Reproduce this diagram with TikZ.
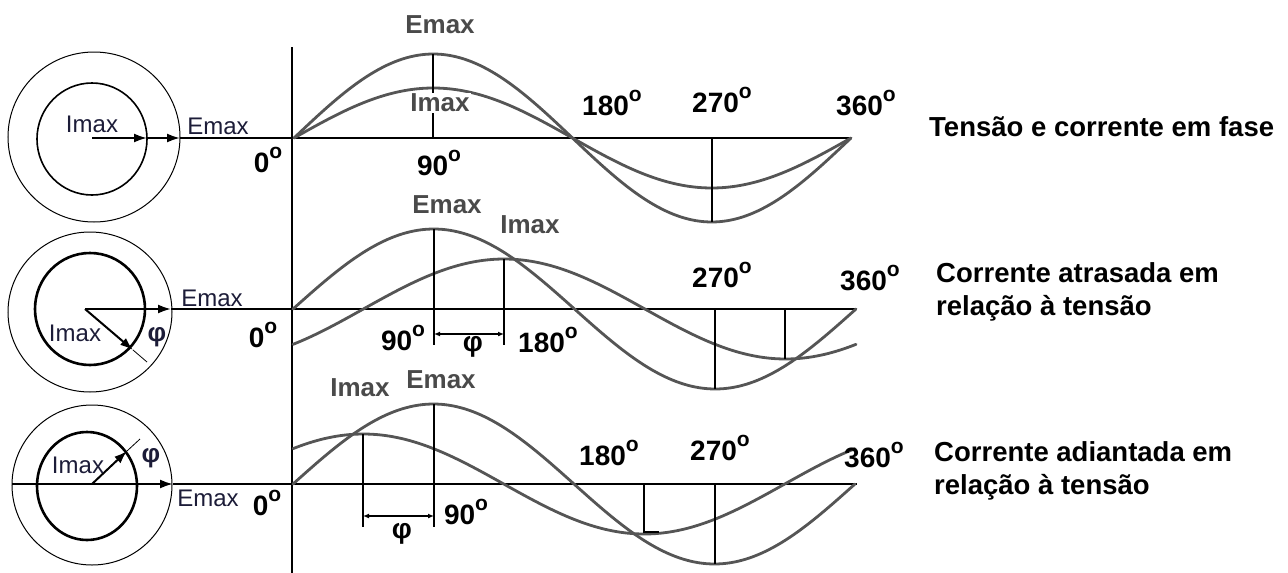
\documentclass[tikz,border=0pt]{standalone}
\usepackage{fontspec}
\setmainfont{Liberation Sans}
\usepackage{xcolor}
\usepackage{tikz}
\usetikzlibrary{arrows.meta}
\definecolor{curvegray}{HTML}{555555}
\definecolor{labelgray}{HTML}{4A4A4A}
\definecolor{phasorink}{HTML}{1C1C38}
\tikzstyle{wave} = [curvegray, line width=2.8pt, line cap=round]
\tikzstyle{guide} = [black, line width=2pt]
\tikzstyle{phasor} = [black, line width=2pt, -{Latex[length=13pt,width=9pt]}]
\tikzstyle{phiarrow} = [black, line width=1.3pt, {Latex[length=6pt,width=5pt]}-{Latex[length=6pt,width=5pt]}]
\tikzstyle{curvelbl} = [font=\fontsize{26}{28}\selectfont\bfseries, text=labelgray]
\tikzstyle{deglbl} = [font=\fontsize{28}{30}\selectfont\bfseries]
\tikzstyle{phlbl} = [font=\fontsize{24}{26}\selectfont, text=phasorink]
\tikzstyle{caption} = [font=\fontsize{27.5}{33}\selectfont\bfseries, align=left, anchor=west]
\newcommand{\grau}{\raisebox{0.5em}{\fontsize{21}{21}\selectfont\bfseries o}}

\begin{document}
\begin{tikzpicture}[x=1pt, y=-1pt, every node/.style={inner sep=1pt}]
\useasboundingbox (0,0) rectangle (1288,573);

% Vertical axis
\draw[guide] (292,47) -- (292,573);

% ---------- Row 1: in phase ----------
\coordinate (o1) at (92,138);
\coordinate (i1) at (147,138);
\coordinate (e1) at (180,138);
\coordinate (end1) at (851,138);
\draw[line width=1pt] (94,137) ellipse [x radius=86pt, y radius=85pt];
\draw[line width=1.6pt] (92,139) ellipse [x radius=55pt, y radius=56pt];
\draw[phasor] (o1) -- (i1);
\draw[phasor] (i1) -- (e1);
\draw[guide] (e1) -- (end1);
\node[phlbl] (pi1) at (92,124) {Imax};
\node[phlbl] (pe1) at (218,126) {Emax};
\node[deglbl] (d0a) at (268,160) {0\grau};

\draw[wave] plot[domain=0:360, samples=73, smooth] ({294+\x/360*557},{138-84*sin(\x)});
\draw[wave] plot[domain=0:360, samples=73, smooth] ({294+\x/360*557},{138-50*sin(\x)});
\draw[guide] (433,54) -- (433,138);
\draw[guide] (712,138) -- (712,222);
\node[curvelbl] (ce1) at (440,25) {Emax};
\node[curvelbl, fill=white] (ci1) at (440,103) {Imax};
\node[deglbl] (d90a) at (439,163) {90\grau};
\node[deglbl] (d180a) at (612,103) {180\grau};
\node[deglbl] (d270a) at (722,100) {270\grau};
\node[deglbl] (d360a) at (866,103) {360\grau};
\node[caption] (cap1) at (928,127) {Tensão e corrente em fase};

% ---------- Row 2: current lagging ----------
\coordinate (o2) at (85,309);
\coordinate (i2) at (133,350);
\coordinate (x2) at (147,362);
\coordinate (e2) at (171,309);
\coordinate (end2) at (857,309);
\draw[line width=1pt] (90,312) ellipse [x radius=82pt, y radius=80pt];
\draw[line width=2.6pt] (90,309) ellipse [x radius=55pt, y radius=56pt];
\draw[phasor] (o2) -- (e2);
\draw[guide] (e2) -- (end2);
\draw[phasor] (o2) -- (i2);
\draw[line width=0.8pt] (i2) -- (x2);
\node[phlbl] (pe2) at (212,298) {Emax};
\node[phlbl] (pi2) at (75,333) {Imax};
\node[phlbl, font=\fontsize{26}{28}\selectfont\bfseries] (pf2) at (157,337) {φ};
\node[deglbl] (d0b) at (263,335) {0\grau};

\draw[wave] plot[domain=0:360, samples=73, smooth] ({293+\x/360*563},{309-80*sin(\x)});
\draw[wave] plot[domain=0:360, samples=73, smooth] ({293+\x/360*563},{309-50*sin(\x-45)});
\coordinate (a2) at (434,334);
\coordinate (b2) at (504,334);
\draw[guide] (434,229) -- (434,345);
\draw[guide] (504,259) -- (504,345);
\draw[phiarrow] (a2) -- (b2);
\draw[guide] (715,309) -- (715,389);
\draw[guide] (785,309) -- (785,359);
\node[curvelbl] (ce2) at (447,205) {Emax};
\node[curvelbl] (ci2) at (530,225) {Imax};
\node[deglbl] (d90b) at (403,338) {90\grau};
\node[deglbl] (f2) at (473,347) {φ};
\node[deglbl] (d180b) at (548,340) {180\grau};
\node[deglbl] (d270b) at (722,275) {270\grau};
\node[deglbl] (d360b) at (870,278) {360\grau};
\node[caption] (cap2) at (935,292) {Corrente atrasada em\\relação à tensão};

% ---------- Row 3: current leading ----------
\coordinate (s3) at (12,484);
\coordinate (o3) at (92,484);
\coordinate (i3) at (127,451);
\coordinate (x3) at (140,439);
\coordinate (e3) at (173,484);
\coordinate (end3) at (857,484);
\draw[line width=1pt] (92,485) ellipse [x radius=80pt, y radius=80pt];
\draw[line width=2.6pt] (87,486) ellipse [x radius=50pt, y radius=54pt];
\draw[guide] (s3) -- (o3);
\draw[phasor] (o3) -- (e3);
\draw[guide] (e3) -- (end3);
\draw[phasor] (o3) -- (i3);
\draw[line width=0.8pt] (i3) -- (x3);
\node[phlbl] (pi3) at (78,465) {Imax};
\node[phlbl, font=\fontsize{26}{28}\selectfont\bfseries] (pf3) at (151,458) {φ};
\node[phlbl] (pe3) at (208,498) {Emax};
\node[deglbl] (d0c) at (267,503) {0\grau};

\draw[wave] plot[domain=0:360, samples=73, smooth] ({293+\x/360*562},{484-80*sin(\x)});
\draw[wave] plot[domain=0:360, samples=73, smooth] ({293+\x/360*562},{484-50*sin(\x+45)});
\coordinate (a3) at (363,516);
\coordinate (b3) at (434,516);
\draw[guide] (363,434) -- (363,527);
\draw[guide] (434,404) -- (434,527);
\draw[phiarrow] (a3) -- (b3);
\draw[guide] (715,484) -- (715,564);
\draw[guide] (644,484) -- (644,532) -- (659,532);
\node[curvelbl] (ci3) at (360,388) {Imax};
\node[curvelbl] (ce3) at (441,380) {Emax};
\node[deglbl] (f3) at (402,534) {φ};
\node[deglbl] (d90c) at (466,512) {90\grau};
\node[deglbl] (d180c) at (609,453) {180\grau};
\node[deglbl] (d270c) at (720,448) {270\grau};
\node[deglbl] (d360c) at (874,455) {360\grau};
\node[caption] (cap3) at (933,471) {Corrente adiantada em\\relação à tensão};

\end{tikzpicture}
\end{document}
